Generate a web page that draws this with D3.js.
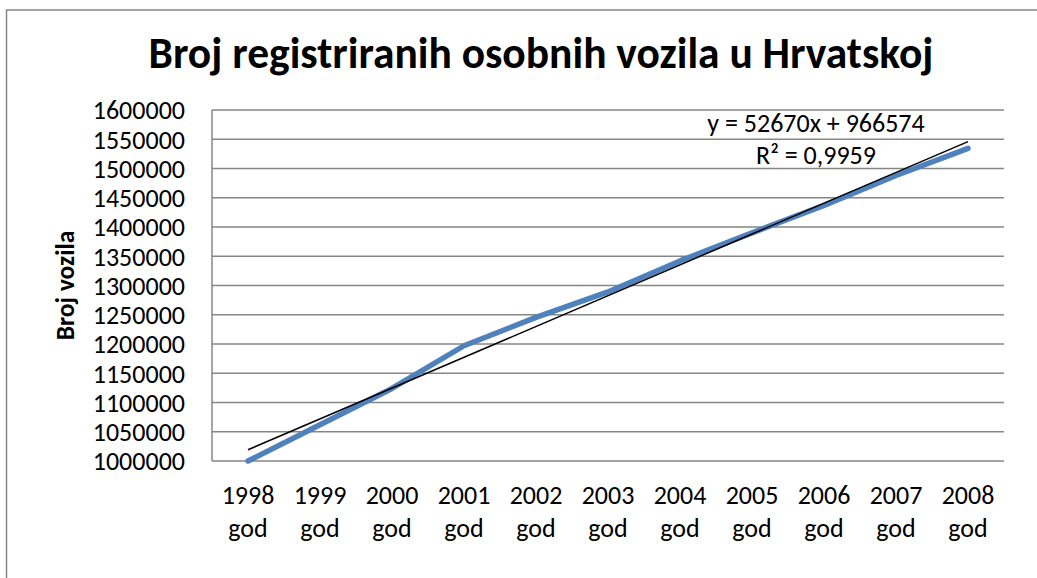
<!DOCTYPE html>
<html lang="hr">
<head>
    <meta charset="UTF-8">
    <title>Broj registriranih osobnih vozila u Hrvatskoj</title>
    <script src="https://d3js.org/d3.v7.min.js"></script>
    <style>
        html, body {
            margin: 0;
            padding: 0;
            background: #fff;
            overflow: hidden;
        }
        body {
            font-family: Calibri, Carlito, Lato, sans-serif;
        }
        svg {
            display: block;
            font-family: Calibri, Carlito, Lato, sans-serif;
        }
        .grid line {
            stroke: #868686;
            stroke-width: 1.5;
        }
        .tick-label {
            font-size: 26px;
            fill: #000;
        }
    </style>
</head>
<body>
    <svg width="1037" height="578"></svg>

    <script>
        // Data
        const categories = ["1998 god", "1999 god", "2000 god", "2001 god", "2002 god", "2003 god",
                            "2004 god", "2005 god", "2006 god", "2007 god", "2008 god"];
        const vehicles = [1000000, 1062000, 1124000, 1197000, 1245600, 1289000,
                          1342000, 1390000, 1437000, 1488000, 1534500];
        const yTicks = [1000000, 1050000, 1100000, 1150000, 1200000, 1250000,
                        1300000, 1350000, 1400000, 1450000, 1500000, 1550000, 1600000];
        // Linear trendline as shown on the chart (x = 1..11)
        const trendSlope = 52670;
        const trendIntercept = 966574;
        const trendText = ["y = 52670x + 966574", "R² = 0,9959"];

        const svg = d3.select("svg");

        // Plot area
        const plot = { left: 212, right: 1004, top: 110, bottom: 461 };

        const x = d3.scaleBand()
            .domain(categories)
            .range([plot.left, plot.right])
            .padding(0);
        const xc = d => x(d) + x.bandwidth() / 2;

        const y = d3.scaleLinear()
            .domain([yTicks[0], yTicks[yTicks.length - 1]])
            .range([plot.bottom, plot.top]);

        // Outer chart frame (only top and left edges fall inside the picture)
        svg.append("rect")
            .attr("x", 6.5)
            .attr("y", 10)
            .attr("width", 1200)
            .attr("height", 800)
            .attr("fill", "none")
            .attr("stroke", "#868686")
            .attr("stroke-width", 1.5);

        // Title
        svg.append("text")
            .attr("x", 541)
            .attr("y", 68)
            .attr("text-anchor", "middle")
            .style("font-weight", "bold")
            .style("font-size", "43.5px")
            .text("Broj registriranih osobnih vozila u Hrvatskoj");

        // Horizontal gridlines
        svg.append("g")
            .attr("class", "grid")
            .selectAll("line")
            .data(yTicks)
            .enter().append("line")
            .attr("x1", plot.left)
            .attr("x2", plot.right)
            .attr("y1", d => y(d))
            .attr("y2", d => y(d));

        // Vertical axis line
        svg.append("line")
            .attr("x1", plot.left)
            .attr("x2", plot.left)
            .attr("y1", plot.top)
            .attr("y2", plot.bottom)
            .attr("stroke", "#868686")
            .attr("stroke-width", 1.5);

        // Y axis, labels only
        const yAxis = d3.axisLeft(y)
            .tickValues(yTicks)
            .tickFormat(d3.format("d"))
            .tickSize(0)
            .tickPadding(27);
        const gy = svg.append("g")
            .attr("transform", `translate(${plot.left},0)`)
            .call(yAxis)
            .attr("font-family", null)
            .attr("font-size", null);
        gy.select(".domain").remove();
        gy.selectAll("text")
            .attr("class", "tick-label")
            .attr("dy", "0.34em");

        // X axis labels, two lines each
        const xLabels = svg.append("g")
            .selectAll("text")
            .data(categories)
            .enter().append("text")
            .attr("class", "tick-label")
            .attr("text-anchor", "middle")
            .attr("x", d => xc(d));
        xLabels.append("tspan")
            .attr("x", d => xc(d))
            .attr("y", 504)
            .text(d => d.split(" ")[0]);
        xLabels.append("tspan")
            .attr("x", d => xc(d))
            .attr("y", 537)
            .text(d => d.split(" ")[1]);

        // Y axis title
        svg.append("text")
            .attr("transform", `translate(74,${(plot.top + plot.bottom) / 2}) rotate(-90)`)
            .attr("text-anchor", "middle")
            .style("font-weight", "bold")
            .style("font-size", "25.5px")
            .text("Broj vozila");

        // Data line
        const line = d3.line()
            .x((d, i) => xc(categories[i]))
            .y(d => y(d));
        svg.append("path")
            .datum(vehicles)
            .attr("d", line)
            .attr("fill", "none")
            .attr("stroke", "#4F81BD")
            .attr("stroke-width", 5.5)
            .attr("stroke-linecap", "round")
            .attr("stroke-linejoin", "round");

        // Trendline
        svg.append("line")
            .attr("x1", xc(categories[0]))
            .attr("y1", y(trendSlope * 1 + trendIntercept))
            .attr("x2", xc(categories[categories.length - 1]))
            .attr("y2", y(trendSlope * categories.length + trendIntercept))
            .attr("stroke", "#000")
            .attr("stroke-width", 1.5);

        // Trendline equation
        svg.append("g")
            .selectAll("text")
            .data(trendText)
            .enter().append("text")
            .attr("class", "tick-label")
            .attr("x", 816)
            .attr("y", (d, i) => 132 + i * 32)
            .attr("text-anchor", "middle")
            .text(d => d);
    </script>
</body>
</html>
